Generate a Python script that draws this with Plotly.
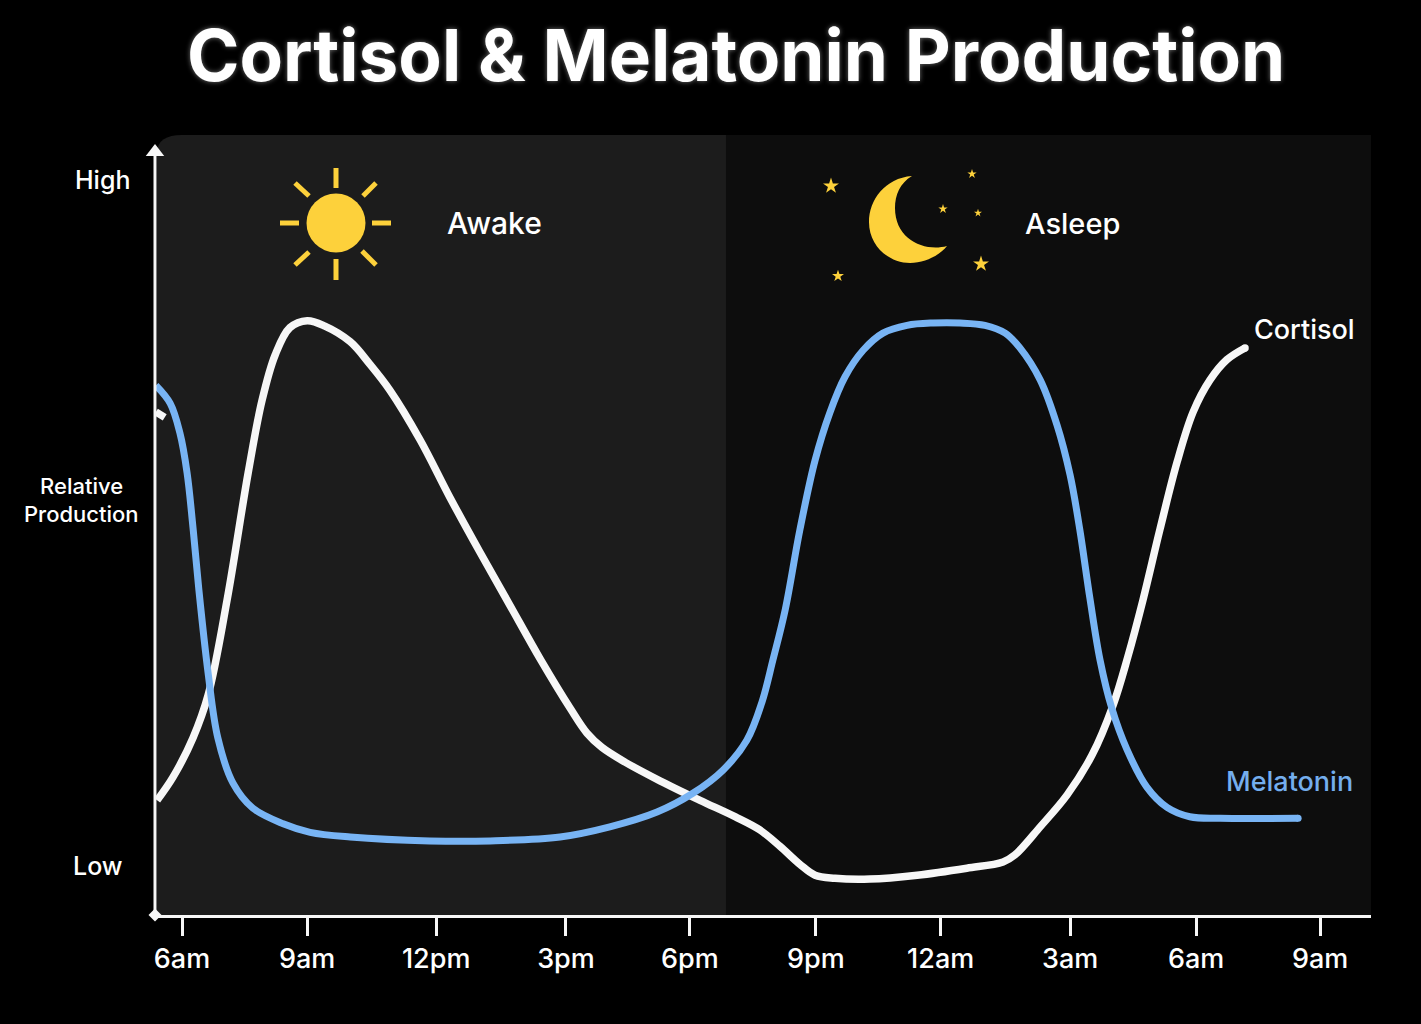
import plotly.graph_objects as go

# values: hours since midnight of day one, production 0-100
cortisol_hours = [5.38, 5.59, None,
                  5.41, 5.79, 6.26, 6.62, 7.07, 7.57, 7.90, 8.21, 8.56, 8.97, 9.39, 9.99,
                  10.46, 10.93, 11.65, 12.36, 13.07, 13.78, 14.49, 15.21, 15.61, 15.96, 16.51,
                  17.34, 18.29, 19.12, 19.71, 20.19, 20.66, 21.02, 21.49, 22.32, 23.44, 24.62, 25.48, 25.76,
                  26.36, 27.00, 27.59, 28.09, 28.44, 28.80, 29.20, 29.61, 29.99, 30.39, 30.79, 31.22]
cortisol_values = [64.5, 63.8, None,
                   14.7, 17.7, 22.7, 28.2, 40.4, 56.7, 66.0, 71.8, 75.3, 76.2, 75.5, 73.5,
                   70.6, 67.3, 60.9, 53.5, 46.5, 39.7, 32.9, 26.5, 23.3, 21.5, 19.6,
                   17.2, 14.7, 12.6, 10.9, 8.8, 6.5, 5.1, 4.7, 4.6, 5.1, 6.0, 6.8, 7.7,
                   11.3, 15.4, 20.5, 26.9, 33.1, 40.4, 49.4, 58.1, 64.5, 68.6, 71.2, 72.7]

melatonin_hours = [5.38, 5.72, 5.95, 6.12, 6.26, 6.40, 6.62, 6.85, 7.21, 7.68, 8.40, 9.04, 9.99,
                   11.88, 13.31, 14.97, 16.15, 17.27, 18.12, 18.84, 19.40, 19.76, 20.02, 20.31, 20.66,
                   21.02, 21.37, 21.73, 22.16, 22.63, 23.20, 23.82, 24.46, 25.05, 25.53, 25.88, 26.36,
                   26.76, 27.07, 27.30, 27.54, 27.78, 28.06, 28.42, 28.89, 29.37, 29.91, 30.63, 32.48]
melatonin_values = [67.9, 65.6, 61.8, 56.7, 49.7, 41.7, 31.0, 22.7, 16.9, 13.7, 11.7, 10.6, 10.0,
                    9.5, 9.5, 10.0, 11.3, 13.2, 15.6, 18.6, 22.4, 27.3, 32.7, 39.1, 49.4,
                    58.3, 64.4, 69.0, 72.4, 74.6, 75.6, 75.9, 75.9, 75.6, 74.6, 72.7, 68.6,
                    62.8, 56.4, 49.4, 40.6, 32.7, 26.5, 21.2, 16.4, 13.8, 12.6, 12.4, 12.4]

# the ticks in the original are not quite evenly spaced
tick_hours = [6, 8.97, 12.03, 15.11, 18.05, 21.04, 24, 27.07, 30.06, 33]
tick_labels = ["6am", "9am", "12pm", "3pm", "6pm", "9pm", "12am", "3am", "6am", "9am"]

WHITE = "#f7f7f7"
BLUE = "#78b4f4"
YELLOW = "#fdd13b"
FONT = "Inter"

# plot area in page pixels
LEFT, RIGHT, TOP, BOTTOM = 155, 1371, 135, 915


def px_x(px):
    return (px - LEFT) / (RIGHT - LEFT)


def px_y(py):
    return (BOTTOM - py) / (BOTTOM - TOP)


def hour_x(px):
    return 6 + (px - 182) / 42.15


def value_y(py):
    return (BOTTOM - py) / 7.8


def page_path(parts):
    # parts: list of (command, [x, y, x, y...]) in page pixels
    out = ""
    for cmd, nums in parts:
        out += cmd
        pairs = []
        for i in range(0, len(nums), 2):
            pairs.append(f"{px_x(nums[i]):.5f},{px_y(nums[i + 1]):.5f}")
        out += " ".join(pairs) + " "
    return out + "Z"


def page_line(x0, y0, x1, y1, color, width):
    return dict(type="line", xref="paper", yref="paper", x0=px_x(x0), y0=px_y(y0), x1=px_x(x1), y1=px_y(y1),
                line=dict(color=color, width=width))


def page_text(text, px, py, size, color="#ffffff", weight=500, shadow="none"):
    return dict(text=text, xref="paper", yref="paper", x=px_x(px), y=px_y(py), showarrow=False,
                xanchor="center", yanchor="middle",
                font=dict(family=FONT, size=size, color=color, weight=weight, shadow=shadow))


shapes = [
    # awake panel with its rounded corner
    dict(type="path", xref="paper", yref="paper", layer="below", line=dict(width=0), fillcolor="#1c1c1c",
         path=page_path([("M", [157, 915]), ("L", [157, 152]), ("Q", [158, 135, 182, 135]),
                         ("L", [726, 135]), ("L", [726, 915])])),
    dict(type="rect", xref="paper", yref="paper", layer="below", line=dict(width=0), fillcolor="#0d0d0d",
         x0=px_x(726), x1=1, y0=0, y1=1),
    # y axis
    page_line(155, 915, 155, 155, WHITE, 3),
    # sun
    dict(type="circle", xref="paper", yref="paper", fillcolor=YELLOW, line=dict(width=0),
         x0=px_x(306.5), x1=px_x(365.5), y0=px_y(252.5), y1=px_y(193.5)),
    # moon
    dict(type="path", xref="paper", yref="paper", fillcolor=YELLOW, line=dict(width=0),
         path=page_path([("M", [912, 176]), ("C", [885, 178, 869, 200, 869, 222]),
                         ("C", [869, 247, 890, 263, 910, 263]), ("C", [925, 263, 940, 255, 947, 246]),
                         ("C", [925, 252, 895, 240, 895, 208]), ("C", [895, 195, 900, 183, 912, 176])])),
]

# sun rays
for x0, y0, x1, y1 in [(336, 168, 336, 188), (336, 259, 336, 280), (280, 223, 299, 223), (372, 223, 391, 223),
                       (295, 183, 309, 196), (376, 183, 363, 196), (295, 265, 309, 252), (376, 265, 362, 251)]:
    shapes.append(page_line(x0, y0, x1, y1, YELLOW, 5))

annotations = [
    page_text("Cortisol &amp; Melatonin Production", 736, 55, 71, weight=700, shadow="0 0 5px rgba(255,255,255,0.45)"),
    page_text("High", 102, 180, 25),
    page_text("Low", 98, 866, 25),
    page_text("Relative", 81, 486, 22),
    page_text("Production", 81, 514, 22),
    page_text("Awake", 494, 223, 30),
    page_text("Asleep", 1072, 223, 29),
    page_text("Cortisol", 1304, 329, 27),
    page_text("Melatonin", 1289, 781, 27, color="#74aeee"),
]

fig = go.Figure()

fig.add_trace(go.Scatter(x=cortisol_hours, y=cortisol_values, mode="lines", name="Cortisol",
                         line=dict(color=WHITE, width=7.5, shape="spline", smoothing=1.0),
                         connectgaps=False))
fig.add_trace(go.Scatter(x=melatonin_hours, y=melatonin_values, mode="lines", name="Melatonin",
                         line=dict(color=BLUE, width=7, shape="spline", smoothing=1.0)))

# round line ends
fig.add_trace(go.Scatter(x=cortisol_hours[-1:], y=cortisol_values[-1:], mode="markers",
                         marker=dict(size=7.5, color=WHITE, line=dict(width=0)),
                         hoverinfo="skip", showlegend=False))
fig.add_trace(go.Scatter(x=melatonin_hours[-1:], y=melatonin_values[-1:], mode="markers",
                         marker=dict(size=7, color=BLUE, line=dict(width=0)),
                         hoverinfo="skip", showlegend=False))

# stars round the moon
star_px = [831, 972, 943, 978, 981, 838]
star_py = [186, 174, 209, 213, 264, 276]
star_sizes = [12, 7, 7, 6, 12, 9]
fig.add_trace(go.Scatter(x=[hour_x(p) for p in star_px], y=[value_y(p) for p in star_py], mode="markers",
                         marker=dict(symbol="star", size=star_sizes, color=YELLOW, opacity=1, line=dict(width=0)),
                         hoverinfo="skip", showlegend=False))

# axis arrow head and the little knob at the origin
fig.add_trace(go.Scatter(x=[hour_x(155)], y=[value_y(152)], mode="markers", cliponaxis=False,
                         marker=dict(symbol="triangle-up", size=16, color=WHITE, line=dict(width=0)),
                         hoverinfo="skip", showlegend=False))
fig.add_trace(go.Scatter(x=[hour_x(155)], y=[value_y(915)], mode="markers", cliponaxis=False,
                         marker=dict(symbol="diamond", size=10, color=WHITE, line=dict(width=0)),
                         hoverinfo="skip", showlegend=False))

fig.update_xaxes(range=[hour_x(LEFT), hour_x(RIGHT)], tickmode="array", tickvals=tick_hours, ticktext=tick_labels,
                 ticks="outside", ticklen=18, tickwidth=3, tickcolor=WHITE, showgrid=False, zeroline=False,
                 showline=True, linecolor=WHITE, linewidth=3,
                 tickfont=dict(family=FONT, size=27, color="#ffffff", weight=500))
fig.update_yaxes(range=[0, 100], showgrid=False, zeroline=False, showticklabels=False, ticks="")

fig.update_layout(width=1421, height=1024, autosize=False,
                  margin=dict(l=LEFT, r=1421 - RIGHT, t=TOP, b=1024 - BOTTOM),
                  paper_bgcolor="#000000", plot_bgcolor="#000000", showlegend=False,
                  shapes=shapes, annotations=annotations)

fig.write_html("out.html", config={"displayModeBar": False},
               post_script="document.body.style.margin='0';document.body.style.background='#000';")
